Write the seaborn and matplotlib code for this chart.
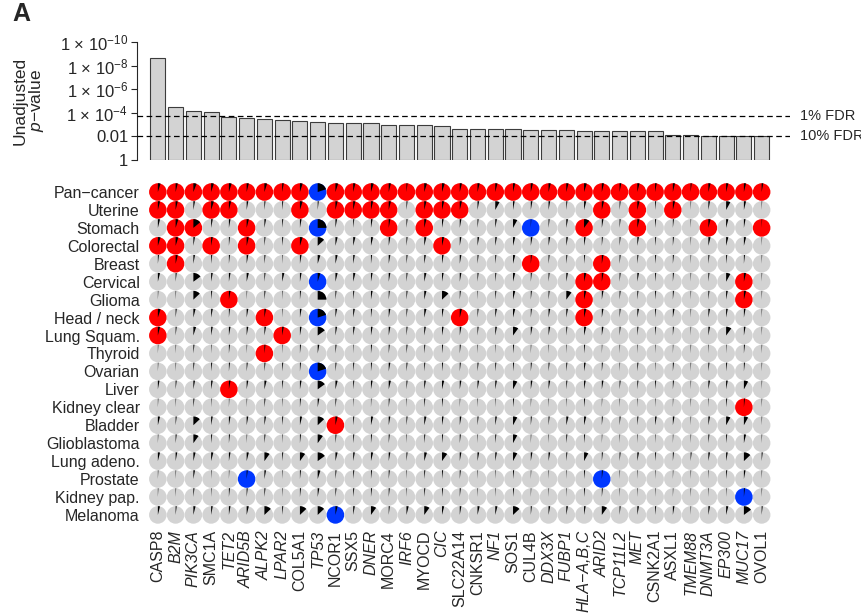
import numpy as np
import pandas as pd
import matplotlib
matplotlib.use("Agg")
import matplotlib.pyplot as plt
from matplotlib.path import Path
from matplotlib.markers import MarkerStyle
import seaborn as sns

# Genes, ordered by pan-cancer p-value
genes = ['CASP8', 'B2M', 'PIK3CA', 'SMC1A', 'TET2', 'ARID5B', 'ALPK2', 'LPAR2',
         'COL5A1', 'TP53', 'NCOR1', 'SSX5', 'DNER', 'MORC4', 'IRF6', 'MYOCD',
         'CIC', 'SLC22A14', 'CNKSR1', 'NF1', 'SOS1', 'CUL4B', 'DDX3X', 'FUBP1',
         'HLA\u2212A,B,C', 'ARID2', 'TCP11L2', 'MET', 'CSNK2A1', 'ASXL1',
         'TMEM88', 'DNMT3A', 'EP300', 'MUC17', 'OVOL1']

# genes whose label is set in italics
italic_genes = ['B2M', 'PIK3CA', 'TET2', 'ARID5B', 'ALPK2', 'LPAR2', 'TP53', 'DNER',
                'IRF6', 'CIC', 'NF1', 'DDX3X', 'FUBP1', 'HLA\u2212A,B,C', 'ARID2',
                'TCP11L2', 'MET', 'TMEM88', 'DNMT3A', 'EP300', 'MUC17']

# -log10 of the unadjusted p-value
neg_log10_p = [8.65, 4.45, 4.14, 4.06, 3.66, 3.57, 3.46, 3.40, 3.29, 3.23,
               3.12, 3.12, 3.12, 3.00, 2.95, 2.94, 2.89, 2.64, 2.64, 2.64,
               2.61, 2.55, 2.55, 2.50, 2.47, 2.47, 2.47, 2.44, 2.44, 2.16,
               2.16, 2.07, 2.07, 2.07, 2.07]

fdr_1pct = 3.72
fdr_10pct = 2.0

cancers = ['Pan\u2212cancer', 'Uterine', 'Stomach', 'Colorectal', 'Breast',
           'Cervical', 'Glioma', 'Head / neck', 'Lung Squam.', 'Thyroid',
           'Ovarian', 'Liver', 'Kidney clear', 'Bladder', 'Glioblastoma',
           'Lung adeno.', 'Prostate', 'Kidney pap.', 'Melanoma']

# R = significant (red), B = significant (blue), . = not significant
status_rows = [
    "RRRRR RRRRB RRRRR RRRRR RRRRR RRRRR RRRRR",
    "RR.RR ...R. RRRR. RRR.. ..... R.R.R .....",
    ".RR.. R...B ...R. R.... .B..R ..R.. .R..R",
    "RR.R. R..R. ..... .R... ..... ..... .....",
    ".R... ..... ..... ..... .R... R.... .....",
    "..... ....B ..... ..... ....R R.... ...R.",
    "....R ..... ..... ..... ....R ..... ...R.",
    "R.... .R..B ..... ..R.. ....R ..... .....",
    "R.... ..R.. ..... ..... ..... ..... .....",
    "..... .R... ..... ..... ..... ..... .....",
    "..... ....B ..... ..... ..... ..... .....",
    "....R ..... ..... ..... ..... ..... .....",
    "..... ..... ..... ..... ..... ..... ...R.",
    "..... ..... R.... ..... ..... ..... .....",
    "..... ..... ..... ..... ..... ..... .....",
    "..... ..... ..... ..... ..... ..... .....",
    "..... B.... ..... ..... ..... B.... .....",
    "..... ..... ..... ..... ..... ..... ...B.",
    "..... ..... B.... ..... ..... ..... .....",
]

# black wedge size, percent of the circle
wedge_pct = [
    [5, 4, 6, 5, 5, 4, 5, 3, 5, 20, 5, 4, 5, 4, 2, 5, 5, 4, 4, 4, 4, 4, 4, 4, 5, 4, 3, 4, 3, 4, 2, 4, 4, 4, 3],
    [4, 4, 3, 5, 4, 3, 2, 2, 5, 2, 4, 4, 4, 4, 2, 4, 4, 4, 3, 8, 3, 3, 3, 2, 4, 4, 2, 4, 2, 4, 1, 3, 8, 4, 1],
    [4, 5, 14, 3, 3, 4, 3, 2, 3, 25, 3, 2, 3, 3, 2, 4, 3, 3, 2, 3, 8, 1, 2, 3, 10, 3, 2, 4, 2, 2, 1, 4, 4, 3, 1],
    [5, 5, 3, 3, 2, 4, 2, 2, 5, 13, 4, 4, 4, 3, 2, 4, 4, 3, 3, 3, 4, 3, 3, 3, 3, 2, 2, 3, 2, 2, 1, 4, 4, 4, 1],
    [2, 4, 3, 2, 2, 3, 2, 1, 3, 5, 4, 3, 2, 3, 2, 3, 3, 3, 2, 2, 4, 2, 2, 2, 2, 3, 2, 2, 2, 2, 1, 2, 2, 2, 1],
    [4, 2, 15, 3, 3, 4, 2, 4, 3, 5, 4, 4, 3, 3, 2, 4, 3, 3, 2, 2, 4, 2, 2, 3, 4, 3, 2, 3, 2, 2, 1, 2, 8, 4, 1],
    [1, 1, 13, 2, 3, 1, 2, 1, 2, 25, 2, 2, 3, 2, 2, 4, 13, 2, 1, 2, 4, 2, 2, 10, 4, 3, 2, 2, 2, 2, 1, 2, 3, 4, 1],
    [5, 2, 4, 3, 2, 3, 3, 1, 3, 20, 3, 3, 2, 3, 2, 4, 3, 4, 2, 3, 4, 2, 3, 3, 4, 3, 2, 3, 2, 3, 1, 3, 3, 3, 1],
    [4, 2, 5, 3, 3, 3, 3, 3, 3, 15, 3, 3, 3, 3, 2, 3, 3, 3, 2, 3, 10, 3, 3, 2, 4, 3, 2, 2, 2, 2, 1, 3, 10, 3, 1],
    [1, 1, 2, 1, 2, 1, 2, 1, 2, 3, 2, 1, 2, 2, 2, 2, 2, 2, 1, 1, 2, 1, 1, 1, 2, 1, 1, 1, 1, 1, 1, 1, 1, 2, 1],
    [1, 1, 2, 2, 2, 2, 2, 2, 2, 20, 2, 2, 2, 3, 2, 2, 2, 2, 2, 2, 2, 2, 2, 2, 3, 2, 1, 2, 1, 2, 1, 2, 2, 2, 1],
    [3, 2, 3, 3, 3, 3, 4, 2, 3, 15, 4, 2, 3, 4, 2, 3, 4, 3, 3, 3, 8, 3, 3, 2, 3, 3, 2, 2, 2, 2, 1, 3, 3, 8, 1],
    [1, 1, 2, 1, 1, 1, 2, 1, 2, 3, 2, 1, 1, 2, 1, 2, 2, 1, 1, 1, 2, 1, 1, 1, 2, 1, 1, 1, 1, 1, 1, 1, 2, 2, 1],
    [4, 2, 13, 3, 3, 3, 3, 2, 4, 13, 4, 2, 4, 3, 2, 4, 3, 3, 2, 3, 8, 2, 2, 4, 4, 2, 2, 2, 3, 3, 1, 3, 8, 8, 1],
    [1, 2, 10, 2, 2, 1, 2, 1, 2, 10, 2, 2, 2, 2, 1, 2, 2, 2, 1, 2, 8, 1, 1, 2, 2, 1, 1, 1, 1, 1, 1, 2, 2, 4, 1],
    [4, 3, 4, 4, 3, 4, 10, 2, 10, 15, 4, 3, 4, 3, 2, 5, 10, 3, 3, 3, 8, 3, 3, 2, 8, 2, 2, 3, 2, 2, 2, 3, 3, 13, 2],
    [1, 1, 3, 1, 1, 2, 3, 1, 2, 5, 2, 2, 2, 2, 1, 2, 2, 2, 1, 1, 2, 1, 1, 1, 2, 2, 1, 1, 1, 1, 1, 1, 2, 3, 1],
    [1, 1, 2, 1, 2, 2, 2, 1, 2, 3, 2, 2, 2, 2, 1, 2, 2, 2, 1, 1, 2, 1, 1, 1, 2, 2, 1, 1, 1, 1, 1, 1, 1, 2, 1],
    [4, 2, 4, 3, 3, 4, 13, 2, 13, 13, 4, 3, 10, 2, 4, 10, 4, 3, 4, 4, 13, 2, 3, 3, 3, 10, 2, 3, 2, 3, 1, 3, 4, 15, 2],
]

status_colors = {'.': '#d3d3d3', 'R': '#ff0000', 'B': '#0037ff'}

sns.set_style("white")
plt.rcParams['font.family'] = ['Liberation Sans', 'DejaVu Sans']
plt.rcParams['mathtext.fontset'] = 'custom'
plt.rcParams['mathtext.rm'] = 'Liberation Sans'
plt.rcParams['mathtext.it'] = 'Liberation Sans:italic'
plt.rcParams['mathtext.bf'] = 'Liberation Sans:bold'

# long table of cells
records = []
for i, cancer in enumerate(cancers):
    row_status = status_rows[i].replace(' ', '')
    assert len(row_status) == len(genes) and len(wedge_pct[i]) == len(genes)
    for j, gene in enumerate(genes):
        records.append((gene, cancer, row_status[j], wedge_pct[i][j]))
cells = pd.DataFrame(records, columns=['gene', 'cancer', 'status', 'wedge'])

fig = plt.figure(figsize=(8.61, 6.13), dpi=100)
ax_bar = fig.add_axes([0.159, 0.739, 0.7584, 0.1925])
ax_dot = fig.add_axes([0.159, 0.1436, 0.7584, 0.5611])
xlim = (-1.18, 35.59)

# --- top panel: p-value bars ---
bars = pd.DataFrame({'gene': genes, 'score': neg_log10_p})
sns.barplot(data=bars, x='gene', y='score', color='#d3d3d3', saturation=1,
            edgecolor='#3c3c3c', linewidth=0.8, width=0.85, ax=ax_bar)
for fdr in (fdr_1pct, fdr_10pct):
    ax_bar.axhline(fdr, color='black', lw=0.9, ls=(0, (4.5, 2.8)), zorder=5)
ax_bar.text(1.0153, fdr_1pct, '1% FDR', transform=ax_bar.get_yaxis_transform(),
            fontsize=10.5, va='center', ha='left')
ax_bar.text(1.0153, fdr_10pct, '10% FDR', transform=ax_bar.get_yaxis_transform(),
            fontsize=10.5, va='center', ha='left')

ax_bar.set_xlim(*xlim)
ax_bar.set_ylim(0, 10)
ax_bar.set_xticks([])
ax_bar.set_xlabel('')
ax_bar.set_yticks([0, 2, 4, 6, 8, 10])
ax_bar.set_yticklabels(['1', '0.01', '1 \u00d7 10$^{-4}$', '1 \u00d7 10$^{-6}$',
                        '1 \u00d7 10$^{-8}$', '1 \u00d7 10$^{-10}$'])
ax_bar.tick_params(axis='y', length=4.3, width=0.8, pad=2, labelsize=12, left=True)
ax_bar.set_ylabel('Unadjusted\n$p$\u2212value', fontsize=12.5, linespacing=1.0)
ax_bar.yaxis.set_label_coords(-0.139, 0.5)
for side in ('top', 'right', 'bottom'):
    ax_bar.spines[side].set_visible(False)
ax_bar.spines['left'].set_linewidth(0.8)

# --- bottom panel: pie glyphs ---
size = 160
sns.scatterplot(data=cells, x='gene', y='cancer', hue='status', palette=status_colors,
                s=size, linewidth=0, edgecolor='none', legend=False, ax=ax_dot)
for pct, grp in cells.groupby('wedge'):
    wedge = MarkerStyle(Path.wedge(90 - 3.6 * pct, 90))
    sns.scatterplot(data=grp, x='gene', y='cancer', marker=wedge, s=size, color='black',
                    linewidth=0, edgecolor='none', legend=False, ax=ax_dot)

ax_dot.set_xlim(*xlim)
ax_dot.set_ylim(18.56, -0.613)
ax_dot.set_xlabel('')
ax_dot.set_ylabel('')
ax_dot.set_xticks(range(len(genes)))
ax_dot.set_xticklabels(genes, rotation=90)
for label in ax_dot.get_xticklabels():
    if label.get_text() in italic_genes:
        label.set_fontstyle('italic')
ax_dot.set_yticks(range(len(cancers)))
ax_dot.set_yticklabels(cancers)
ax_dot.tick_params(axis='x', length=0, pad=3.6, labelsize=11.5)
ax_dot.tick_params(axis='y', length=0, pad=-2, labelsize=11.5)
sns.despine(ax=ax_dot, left=True, bottom=True)

fig.text(12 / 861, 1 - 2 / 613, 'A', fontsize=18, fontweight='bold', ha='left', va='top')

fig.savefig('out.png', dpi=100)
